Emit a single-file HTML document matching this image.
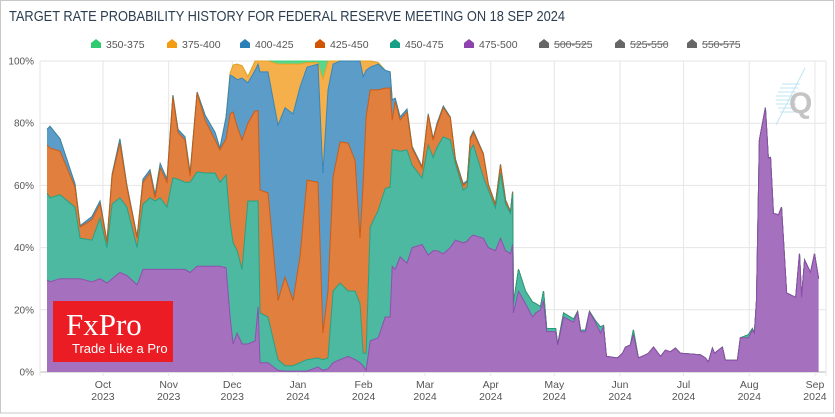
<!DOCTYPE html>
<html><head><meta charset="utf-8"><style>
html,body{margin:0;padding:0;background:#fff;}
svg{display:block;font-family:"Liberation Sans",sans-serif;}
</style></head><body>
<svg id="chart" width="835" height="417" viewBox="0 0 835 417">
<rect x="0.5" y="0.5" width="833" height="412.5" fill="#fff" stroke="#c8c8c8"/>
<text x="9" y="21" font-size="15" fill="#2c3e50" textLength="556" lengthAdjust="spacingAndGlyphs">TARGET RATE PROBABILITY HISTORY FOR FEDERAL RESERVE MEETING ON 18 SEP 2024</text>
<g id="grid"></g>
<g id="areas"></g>
<g id="axes"></g>
<g id="legend"></g>
<g>
<rect x="53" y="301" width="120" height="61" fill="#ec1c24"/>
<text x="66" y="335" font-family="Liberation Serif,serif" font-size="31" fill="#fff">FxPro</text>
<text x="72" y="353" font-size="13" fill="#fff">Trade Like a Pro</text>
</g>
<g>
<g stroke="#bfe6f5" stroke-width="1">
<line x1="782" y1="84" x2="800" y2="84"/><line x1="780" y1="88" x2="798" y2="88"/><line x1="778" y1="92" x2="796" y2="92"/><line x1="776" y1="96" x2="796" y2="96"/><line x1="776" y1="100" x2="796" y2="100"/><line x1="776" y1="104" x2="796" y2="104"/><line x1="778" y1="108" x2="796" y2="108"/><line x1="780" y1="112" x2="796" y2="112"/>
<line x1="776" y1="125" x2="805" y2="68"/>
</g>
<text x="789" y="113" font-size="30" font-weight="bold" fill="#c4c4c4">Q</text>
</g>
</svg>
<script>
const days = [3.6,5,9.7,16.8,19.2,24.8,28.6,31.9,34.3,38,
41.3,46.1,48.9,52.2,54.6,57,60.2,63,65.4,68.7,
71.1,74.4,78.2,82.9,85.2,88.1,90,91.4,93.3,95.6,
98.4,101.8,103.2,104.1,107.9,112.6,115.9,119.7,123,126.3,
131.5,133.8,136.2,138.6,141.9,145.7,149,151.3,152.8,154.2,
156.1,159.9,163.2,165.5,166.5,167.9,170.2,173.5,175.9,180.6,
183.5,185.8,187.7,190.6,193.9,196.3,200,201.9,203.4,204.8,
209.5,211.9,215.2,217.6,220,222.3,223.3,223.7,226.1,229.4,
232.7,234.2,236.5,237.9,239.4,243.6,244.6,247.4,252.1,254,
255.4,257.7,259.6,262.4,264.8,266.2,267.6,272.8,275.2,276.6,
278.9,280.3,282.7,286,287.4,289.8,293.1,295.4,297.8,300.2,
302.5,307.2,312,314.3,315.7,317.6,318.6,322.3,323.7,329.4,
330.8,334.6,336.5,337.4,338.4,339.8,342.6,344,345,346.4,
348.8,350.2,352.6,356.9,358.7,359.7,361.1,363.9,365.8,367.7];
const s475 = [29.6,29,30,30,30,29,30,28.6,30,32,
31,28,33,33,33,33,33,33,33,33,
32,34,34,34,34,33.5,17.7,9,12.5,9,
9,10,21,3,3,0.5,0.3,0.3,0.3,0.3,
1.6,0.5,1,3,4,5,4,3,2,0.5,
10,11,17.7,17.7,34,33,37,35,40,41,
37.6,39,39,38,40,42.4,41.5,42,43.4,44,
43,40,39,43,39,38,41,19,26,22,
17.7,19,20,23,13,13,8.7,17.7,16,19.3,
13,13,19.3,16,12.5,14.5,5,4.5,6,8,
8.7,12,4.5,5.5,6,8,5,7,6.5,7.7,
6,5.8,5.5,4.5,3.2,7.7,6,8,3.8,3.8,
11,11,13.5,12.5,23,74.6,85,68.8,69,51,
50.5,53,25.4,24,38,24,36,32,38,30];
const s450 = [27.9,27,27,23,13,13.4,19.5,11.4,24,24,
22,12,21,23,22,23,20,29.4,29,28,
29,30.3,30,30,27,29.8,30.3,32.5,26.5,24,
46,45,34,16,14.7,3.5,1.7,1.7,2.7,3.7,
2.9,3.5,3.5,23,24.6,21,22,19,4,5.5,
36.6,41,41.3,41.8,37.4,38.4,34,36.4,26.5,21.4,
35.4,30,33.3,37.6,34.6,24.6,17,17.5,28,29,
19.7,18.5,13.7,21,15,13,16.5,3,7,4,
4.8,3,1,3,1,1,0.2,1.3,1,0.2,
0.5,0.5,0.2,0.5,2,0.5,0,0,0,0,
0,1.5,0,0,0,0,0,0,0,0,
0,0,0,0,0,0,0,0,0,0,
0,1,0.5,0,0,0,0,0,0,0];
const s425 = [15.5,16,14,6.5,3.6,6.6,4.5,1.5,9,17.6,
6.5,3,7,8,1,9.6,8,26,15,13.6,
2,25.4,17,10.6,10.4,11.7,35,42.1,40,41.6,
25,29,29,39.5,39.9,19,28.5,21,34,57.7,
56.5,8.5,21.5,36.7,45.4,47.6,42,21,55,76,
44.1,38.7,32.3,31.8,9.6,15.6,10,12.2,5.5,3.2,
9.6,5.6,7.1,9.4,7.1,1,1.5,1.5,3.6,4,
7.3,1.5,1,2.5,1,0.4,0.3];
const s400 = [5,7,4,1,0.4,1,1,0.5,0.5,1.4,
0.5,0.5,1,1,1,1.4,1,0.6,1,1,
1,0.3,1.6,2.4,0.6,7,12.5,11.4,15,19.9,
13,13,15,38,38.9,56.4,54.5,60,54.6,36.3,
38,51.5,64.7,36.3,26,26.4,32,57,34,15,
7.3,8.3,5.7,5.2,6.5,1,1,0.9,0.5,0.4,
0.4,0.4,0.6,0.5,0.3,0.5,0.5,0.5,0.5,0.5,
0.3,0.3,0.3,0.3,0.3,0.2,0.2];
const s375 = [0,0,0,0,0,0,0,0,0,0,
0,0,0,0,0,0,0,0,0,0,
0,0,0,0,0,0,0.5,3.7,5,4,
2,3,1,3.5,3.5,19.6,14,16,7.4,1.5,
0.5,30,9.3,1,0,0,0,0,5,3,
2,0.5];
const s350 = [0,0,0,0,0,0,0,0,0,0,
0,0,0,0,0,0,0,0,0,0,
0,0,0,0,0,0,0,0,0,0,
0,0,0,0,0,1,1,1,1,0.5,
0.5,6];
const seriesNames = ['475-500','450-475','425-450','400-425','375-400','350-375'];
const monthLabels = ['Oct','Nov','Dec','Jan','Feb','Mar','Apr','May','Jun','Jul','Aug','Sep'];
const monthYears = ['2023','2023','2023','2024','2024','2024','2024','2024','2024','2024','2024','2024'];
const monthDays = [30,61,91,122,153,182,213,243,274,304,335,366];
const yTicks = [0,20,40,60,80,100];
const legendNames = ['350-375','375-400','400-425','425-450','450-475','475-500','500-525','525-550','550-575'];

const NS='http://www.w3.org/2000/svg';
const X0=39.4, DX=2.119, Y0=372, DY=3.11, LEFT=40, RIGHT=826;
function xs(d){return X0+d*DX;}
function ys(v){return Y0-v*DY;}
function mk(tag,attrs,parent){const e=document.createElementNS(NS,tag);for(const k in attrs)e.setAttribute(k,attrs[k]);parent.appendChild(e);return e;}

const grid=document.getElementById('grid');
yTicks.forEach(v=>{
  const l=mk('line',{x1:LEFT,x2:RIGHT,y1:ys(v),y2:ys(v),stroke:v===0?'#bbb':'#e6e6e6','stroke-width':1},grid);
  
  
});
[LEFT,RIGHT].forEach(x=>{
  const l=mk('line',{x1:x,x2:x,y1:ys(100),y2:ys(0)+4,stroke:'#e6e6e6'},grid);
  
  
});
monthDays.forEach(d=>{
  const l=mk('line',{x1:xs(d),x2:xs(d),y1:ys(100),y2:ys(0)+4,stroke:'#e6e6e6'},grid);
  
  
});

const series=[s475,s450,s425,s400,s375,s350];
const fills=['#a570be','#4cb9a0','#e07f3e','#5b9cc9','#f5b04b','#5dd68b'];
const strokes=['#8e44ad','#16a085','#d35400','#2980b9','#f39c12','#2ecc71'];
const areas=document.getElementById('areas');
const N=days.length;
const bases=[], tops=[];
let base=new Array(N).fill(0);
series.forEach((s,k)=>{
  const top=[];
  for(let i=0;i<N;i++) top.push(base[i]+(s[i]||0));
  bases.push(base); tops.push(top);
  base=top;
});
for(let k=series.length-1;k>=0;k--){
  const top=tops[k], bs=bases[k];
  let d='';
  for(let i=0;i<N;i++) d+=(i?'L':'M')+xs(days[i]).toFixed(1)+','+ys(top[i]).toFixed(1);
  const line=d;
  for(let i=N-1;i>=0;i--) d+='L'+xs(days[i]).toFixed(1)+','+ys(bs[i]).toFixed(1);
  d+='Z';
  const a=mk('path',{d:d,fill:fills[k],stroke:'none'},areas);
  
  
  const ln=mk('path',{d:line,fill:'none',stroke:strokes[k],'stroke-width':1,'stroke-opacity':0.85},areas);
  
  
}

const axes=document.getElementById('axes');
yTicks.forEach(v=>{
  const t=mk('text',{x:34,y:ys(v)+3.5,'font-size':10,fill:'#555','text-anchor':'end'},axes);
  t.textContent=v+'%';
  
  
});
monthDays.forEach((d,i)=>{
  const t=mk('text',{x:xs(d),y:388,'font-size':10.5,fill:'#555','text-anchor':'middle'},axes);
  t.textContent=monthLabels[i];
  
  
  const t2=mk('text',{x:xs(d),y:400,'font-size':10.5,fill:'#555','text-anchor':'middle'},axes);
  t2.textContent=monthYears[i];
  
  
});

const legend=document.getElementById('legend');
const lx=[96,172,245,320,395,469,544,620,692];
const lcol=['#2ecc71','#f39c12','#2980b9','#d35400','#16a085','#8e44ad','#666','#666','#666'];
legendNames.forEach((n,i)=>{
  const g=mk('g',{},legend);
  
  
  const x=lx[i], y=44;
  mk('path',{d:`M${x-5},${y+4}L${x-5},${y-1}L${x},${y-5}L${x+5},${y-1}L${x+5},${y+4}Z`,fill:lcol[i]},g);
  const t=mk('text',{x:x+10,y:y+4,'font-size':10.5,fill:i>5?'#666':'#555'},g);
  t.textContent=n;
  if(i>5){ mk('line',{x1:x+10,x2:x+48,y1:y,y2:y,stroke:'#666'},g); }
});
</script>
</body></html>
